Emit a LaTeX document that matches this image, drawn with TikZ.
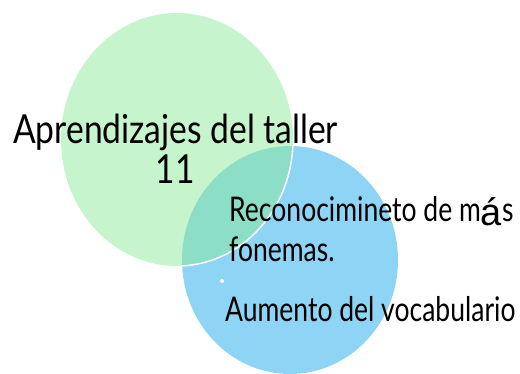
\documentclass[tikz,border=0pt]{standalone}
\usepackage{fontspec}
\newfontfamily\handA[FakeStretch=0.84]{Lato}
\newfontfamily\handB[FakeStretch=0.78]{Lato}
\newfontfamily\accentfont{Liberation Sans}
\definecolor{vgreen}{RGB}{198,244,204}
\definecolor{vblue}{RGB}{142,212,244}
\definecolor{vteal}{RGB}{140,223,198}
\begin{document}
\begin{tikzpicture}[x=1pt,y=-1pt,
  lblbig/.style={font=\handA\fontsize{40}{44}\selectfont, inner sep=0pt, text=black},
  lblsmall/.style={font=\handB\fontsize{34}{38}\selectfont, inner sep=0pt, text=black}]
\useasboundingbox (0,0) rectangle (520,373);
\fill[vblue] (290,260) ellipse [x radius=108, y radius=114];
\fill[vgreen] (177,139.5) ellipse [x radius=116, y radius=126.5];
\begin{scope}
  \clip (290,260) ellipse [x radius=108, y radius=114];
  \fill[vteal] (177,139.5) ellipse [x radius=116, y radius=126.5];
  \draw[white, line width=1.5pt] (177,139.5) ellipse [x radius=116, y radius=126.5];
\end{scope}
\node[lblbig, anchor=base west] (t1) at (13,143) {Aprendizajes del taller};
\node[lblbig, anchor=base] (t2) at (175,183) {11};
\node[lblsmall, anchor=base west] (t3) at (229,221) {Reconocimineto de m\raisebox{-4pt}{\accentfont\fontsize{38}{40}\selectfont á}s};
\node[lblsmall, anchor=base west] (t4) at (229,261) {fonemas.};
\fill[white] (222,281) circle (2);
\node[lblsmall, anchor=base west] (t5) at (225,321) {Aumento del vocabulario};
\end{tikzpicture}
\end{document}
